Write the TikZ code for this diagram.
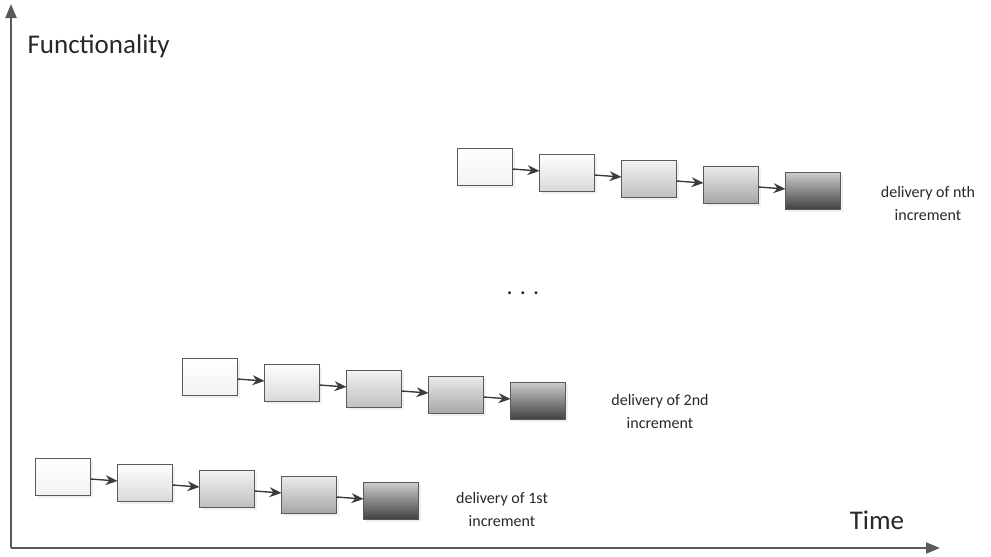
\documentclass[tikz,border=0pt]{standalone}
\usepackage{fontspec}
\setmainfont{Carlito}
\usetikzlibrary{positioning, shadows, arrows.meta}
\definecolor{incBorder}{RGB}{90,90,90}
\definecolor{incArrow}{RGB}{60,60,60}
\definecolor{incText}{RGB}{40,40,40}

\begin{document}
\begin{tikzpicture}[
      x=1pt, y=-1pt,
      phase/.style={draw=incBorder, line width=1.6pt, minimum width=55pt, minimum height=37pt, inner sep=0pt, outer sep=0pt,
        drop shadow={shadow xshift=2pt, shadow yshift=-2pt, opacity=0.12}},
      p1/.style={phase, top color=white, bottom color=black!5},
      p2/.style={phase, top color=white, bottom color=black!15},
      p3/.style={phase, top color=black!5, bottom color=black!25},
      p4/.style={phase, top color=black!8, bottom color=black!35},
      p5/.style={phase, top color=black!20, bottom color=black!75},
      flow/.style={-{Stealth[length=12pt, width=10pt]}, line width=1.4pt, incArrow},
      axis/.style={-{Triangle[length=14pt, width=11pt]}, line width=2.2pt, incBorder},
      delivery/.style={align=center, font=\fontsize{16}{23}\selectfont, text=incText},
      node distance=0pt and 27pt
    ]
      \useasboundingbox (0,0) rectangle (991,557);

      % axes
      \coordinate (origin) at (11,548);
      \coordinate (ytop) at (11,4);
      \coordinate (xend) at (940,548);
      \draw[axis] (origin) -- (ytop);
      \draw[axis] (origin) -- (xend);
      \node[anchor=west, font=\fontsize{27}{30}\selectfont, text=incText] (func) at (24,46) {Functionality};
      \node[font=\fontsize{27}{30}\selectfont, text=incText] (time) at (877,520) {Time};

      % 1st increment
      \node[p1] (a1) at (63,477) {};
      \node[p2, right=of a1, yshift=-6pt] (a2) {};
      \node[p3, right=of a2, yshift=-6pt] (a3) {};
      \node[p4, right=of a3, yshift=-6pt] (a4) {};
      \node[p5, right=of a4, yshift=-6pt] (a5) {};
      \node[delivery] (da) at (502,509) {delivery of 1st\\increment};

      % 2nd increment
      \node[p1] (b1) at (210,377) {};
      \node[p2, right=of b1, yshift=-6pt] (b2) {};
      \node[p3, right=of b2, yshift=-6pt] (b3) {};
      \node[p4, right=of b3, yshift=-6pt] (b4) {};
      \node[p5, right=of b4, yshift=-6pt] (b5) {};
      \node[delivery] (db) at (660,411) {delivery of 2nd\\increment};

      \node[font=\fontsize{24}{26}\selectfont, text=incText] (dots) at (523,293) {. . .};

      % nth increment
      \node[p1] (c1) at (485,167) {};
      \node[p2, right=of c1, yshift=-6pt] (c2) {};
      \node[p3, right=of c2, yshift=-6pt] (c3) {};
      \node[p4, right=of c3, yshift=-6pt] (c4) {};
      \node[p5, right=of c4, yshift=-6pt] (c5) {};
      \node[delivery] (dc) at (928,204) {delivery of nth\\increment};

      \draw[flow] (a1) -- (a2);
      \draw[flow] (a2) -- (a3);
      \draw[flow] (a3) -- (a4);
      \draw[flow] (a4) -- (a5);
      \draw[flow] (b1) -- (b2);
      \draw[flow] (b2) -- (b3);
      \draw[flow] (b3) -- (b4);
      \draw[flow] (b4) -- (b5);
      \draw[flow] (c1) -- (c2);
      \draw[flow] (c2) -- (c3);
      \draw[flow] (c3) -- (c4);
      \draw[flow] (c4) -- (c5);
    \end{tikzpicture}
\end{document}
